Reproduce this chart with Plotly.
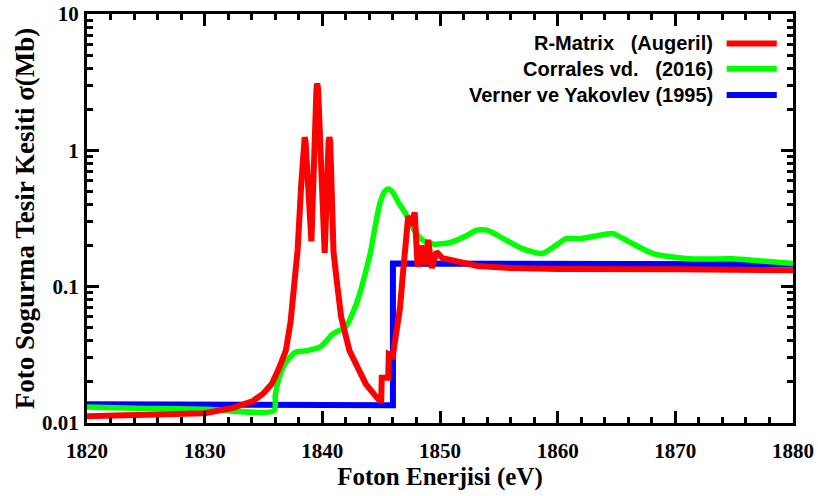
import plotly.graph_objects as go

# photon energy (eV) / cross section (Mb)
rmatrix_e = [1820, 1826.7, 1830, 1832.4, 1834.1, 1835.0, 1835.7, 1836.3, 1836.9, 1837.3,
             1837.65, 1837.9, 1838.2, 1838.42, 1838.5, 1838.58, 1839.07, 1839.5, 1839.57,
             1839.64, 1840.2, 1840.53, 1840.6, 1840.67, 1840.95,
             1841.25, 1841.6, 1842.3, 1843.0, 1843.7, 1844.6, 1845.0, 1845.05, 1845.6,
             1845.65, 1846.0, 1846.1, 1846.4, 1846.6, 1846.85, 1847.1, 1847.3, 1847.55,
             1847.85, 1848.1, 1848.4, 1848.7, 1849.0, 1849.3, 1849.7, 1850.2, 1851.4,
             1853.2, 1856, 1860, 1870, 1880]
rmatrix_s = [0.0112, 0.0115, 0.0118, 0.0129, 0.0145, 0.0165, 0.0193, 0.025, 0.034, 0.055,
             0.106, 0.186, 0.55, 1.15, 1.25, 1.15, 0.215, 2.8, 3.1,
             2.8, 0.177, 1.15, 1.25, 1.15, 0.18,
             0.106, 0.060, 0.034, 0.0257, 0.0193, 0.0155, 0.0142, 0.0215, 0.0215,
             0.032, 0.031, 0.036, 0.054, 0.07, 0.125, 0.26, 0.33, 0.28,
             0.35, 0.14, 0.2, 0.145, 0.22, 0.137, 0.18, 0.162, 0.153,
             0.142, 0.137, 0.135, 0.134, 0.132]

corrales_e = [1820, 1825, 1830, 1835.9, 1836.0, 1836.3, 1836.8, 1837.2, 1837.7, 1838.5,
              1839.8, 1840.9, 1842.0, 1842.9, 1843.2, 1843.7, 1844.1, 1844.5, 1844.9,
              1845.3, 1845.6, 1846.0, 1846.5, 1847.1, 1847.8, 1848.5, 1849.5, 1850.8,
              1852.2, 1853.1, 1854.0, 1855.0, 1857.0, 1858.7, 1860.0, 1860.7, 1861.9,
              1863.0, 1864.7, 1866.0, 1868.1, 1871.2, 1874.9, 1877.0, 1880.0]
corrales_s = [0.0131, 0.0128, 0.0126, 0.0123, 0.016, 0.021, 0.027, 0.030, 0.033, 0.0338,
              0.036, 0.045, 0.051, 0.075, 0.09, 0.13, 0.18, 0.28, 0.41,
              0.50, 0.52, 0.49, 0.41, 0.34, 0.26, 0.22, 0.205, 0.21,
              0.235, 0.26, 0.26, 0.235, 0.19, 0.175, 0.205, 0.225, 0.225,
              0.233, 0.245, 0.215, 0.175, 0.16, 0.16, 0.155, 0.148]

verner_e = [1820, 1846.0, 1846.0, 1880]
verner_s = [0.0137, 0.0135, 0.148, 0.146]

legend_labels = ["R-Matrix\u00a0\u00a0\u00a0(Augeril)", "Corrales vd.\u00a0\u00a0\u00a0(2016)",
                 "Verner ve Yakovlev (1995)"]
colors = ["#ff0000", "#00ff00", "#0000ff"]

x_ticks = [1820, 1830, 1840, 1850, 1860, 1870, 1880]
y_ticks = [0.01, 0.1, 1, 10]
y_ticktext = ["0.01", "0.1", "1", "10"]
y_minor = [m * 10 ** d for d in (-2, -1, 0) for m in range(2, 10)]

LW = 6
fig = go.Figure()
fig.add_trace(go.Scatter(x=verner_e, y=verner_s, mode="lines", name=legend_labels[2],
                         line={"color": colors[2], "width": LW}))
fig.add_trace(go.Scatter(x=corrales_e, y=corrales_s, mode="lines", name=legend_labels[1],
                         line={"color": colors[1], "width": LW - 0.5, "shape": "spline", "smoothing": 0.6}))
fig.add_trace(go.Scatter(x=rmatrix_e, y=rmatrix_s, mode="lines", name=legend_labels[0],
                         line={"color": colors[0], "width": LW}))

# gnuplot-style key: text right-aligned, line sample to the right
key_y = [0.928, 0.866, 0.802]
for label, color, ky in zip(legend_labels, colors, key_y):
    fig.add_annotation(xref="paper", yref="paper", x=0.8895, y=ky, xanchor="right",
                       yanchor="middle", text=label, showarrow=False,
                       font={"family": "Liberation Sans", "size": 20, "color": "black",
                             "weight": "bold"})
    fig.add_shape(type="line", xref="paper", yref="paper", x0=0.906, x1=0.977, y0=ky, y1=ky,
                  line={"color": color, "width": LW})

axis_common = {
    "showline": True, "linewidth": 3, "linecolor": "black", "mirror": "allticks",
    "ticks": "inside", "ticklen": 12, "tickwidth": 2.5, "tickcolor": "black",
    "showgrid": False, "zeroline": False, "automargin": False,
    "ticklabeloverflow": "allow",
    "tickfont": {"family": "Liberation Serif", "size": 21, "color": "black", "weight": "bold"},
}

fig.update_layout(
    width=818, height=496,
    margin={"l": 87, "r": 25, "t": 14, "b": 73},
    plot_bgcolor="white", paper_bgcolor="white",
    showlegend=False,
    xaxis={
        **axis_common,
        "range": [1820, 1880], "tickvals": x_ticks, "ticklabelstandoff": 7,
        "minor": {"dtick": 2, "ticks": "inside", "ticklen": 6, "tickwidth": 2.5, "tickcolor": "black"},
        "title": {"text": "Foton Enerjisi (eV)", "standoff": 6,
                  "font": {"family": "Liberation Serif", "size": 25, "color": "black", "weight": "bold"}},
    },
    yaxis={
        **axis_common,
        "type": "log", "range": [-2, 1], "tickvals": y_ticks, "ticktext": y_ticktext,
        "ticklabelstandoff": 1,
        "minor": {"tickvals": y_minor, "ticks": "inside", "ticklen": 6, "tickwidth": 2.5, "tickcolor": "black"},
        "title": {"text": "Foto Sogurma Tesir Kesiti σ(Mb)", "standoff": 0,
                  "font": {"family": "Liberation Serif", "size": 27, "color": "black", "weight": "bold"}},
    },
)

# drop the default 8px body margin so the figure fills the window exactly
fig.write_html("out.html", config={"displayModeBar": False},
               post_script="document.body.style.margin = '0';")
